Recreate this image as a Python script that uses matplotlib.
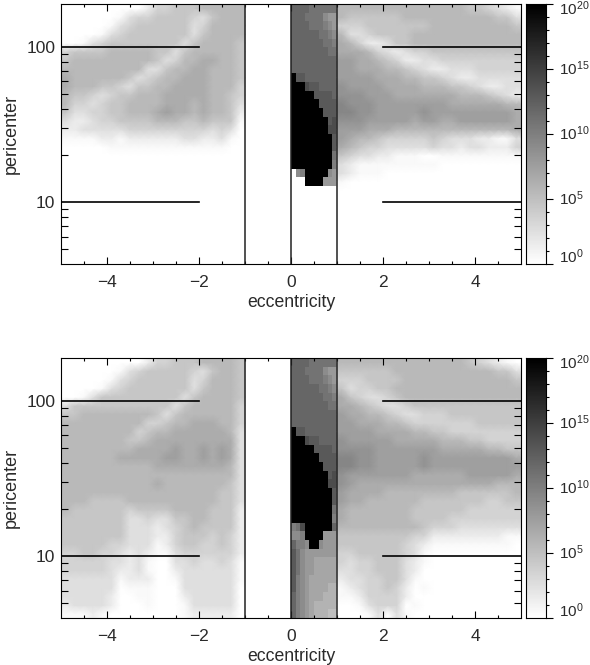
import numpy as np
import matplotlib
matplotlib.use("Agg")
import matplotlib.pyplot as plt
from matplotlib.colors import ListedColormap

plt.rcParams['font.family'] = ['Liberation Sans', 'DejaVu Sans']
plt.rcParams['mathtext.fontset'] = 'custom'
plt.rcParams['mathtext.rm'] = 'Liberation Sans'
plt.rcParams['mathtext.default'] = 'regular'
plt.rcParams['text.color'] = '#2a2a2a'
plt.rcParams['xtick.labelcolor'] = '#2a2a2a'
plt.rcParams['ytick.labelcolor'] = '#2a2a2a'
plt.rcParams['axes.labelcolor'] = '#2a2a2a'

# each character is log10 of the cell value (0-9, A=10 ... K=20), rows run top to bottom
# left block e=-5..-1, middle block e=0..1, right block e=1..5

top_neg = [
    "00000000024455566666",
    "00000013445555435666",
    "00000134555555346666",
    "00001345555555356666",
    "00134555555553566665",
    "45555666665535666665",
    "56666666665346677665",
    "66666666633566776665",
    "76666665345667776665",
    "76665543556677776664",
    "65543455666777776654",
    "64434556666777676653",
    "53344556667877676652",
    "32234455556665565551",
    "22333334444444443430",
    "11112212222223322310",
    "00000111111111111100",
]
top_mid = [
    "CCCCBBBBBB",
    "CCCBBBB988",
    "CCCCBBBA98",
    "CCCCCCBBA9",
    "CCCCCCCBBA",
    "CCCCCCCCBB",
    "CCCCCCCCCC",
    "CCCCCCCCCC",
    "KDDCCCCCCC",
    "KKKEDDCCCC",
    "KKKKKDDDDC",
    "KKKKKKDDDD",
    "KKKKKKKDDD",
    "KKKKKKKKDE",
    "KKKKKKKKEE",
    "KKKKKKKKKD",
    "KKKKKKKKKD",
    "KKKKKKKKKB",
    "KKKKKKKKKA",
    "09AKKKKK98",
    "000KKKK888",
]
top_pos = [
    "66666666666666554321",
    "65555556666666666553",
    "44455555556666666665",
    "63345555666666666666",
    "76422355666666666666",
    "77764323445555555555",
    "88776542233444444444",
    "88777665432233344444",
    "88887776655432233333",
    "98888777766655432233",
    "99988877777776665432",
    "A9998888888877777766",
    "AA998888898888888887",
    "99988888788778888887",
    "88877766666666666667",
    "87665444445433322113",
    "76544333334332332224",
    "54332211100111111111",
    "32111111111000000000",
    "321110000",
    "1",
]

bot_neg = [
    "00000000024455566665",
    "00000013455555435665",
    "00000134555555346665",
    "00001345555555356665",
    "00135555555553566665",
    "35555555555535666664",
    "55666666665356666664",
    "66666666644566777664",
    "66666666456677777763",
    "66666665567777777773",
    "66666666777787787873",
    "66666677777887787873",
    "66666666667777777763",
    "66666666666666666663",
    "66666666667666666653",
    "66666666666666666553",
    "66655556666666666553",
    "65555554555566665552",
    "55555553343355665552",
    "55555553332345655552",
    "55555553332245554542",
    "55555443331245544542",
    "44554432321134444442",
    "44444332310033433431",
    "44444322310023333331",
    "33333312220013333331",
    "33333301110003333330",
    "33333200110002333330",
    "23333200010001333330",
    "11121000000001222220",
]
bot_mid = [
    "CCCCBBBBBB",
    "CCCBBBB988",
    "CCCCBBBA98",
    "CCCCCCBBA9",
    "CCCCCCCBBA",
    "CCCCCCCCBB",
    "CCCCCCCCCC",
    "CCCCCCCCCC",
    "KDDCCCCCCC",
    "KKKEDDCCCC",
    "KKKKKDDDDC",
    "KKKKKKDDDD",
    "KKKKKKKDDD",
    "KKKKKKKKDE",
    "KKKKKKKKEE",
    "KKKKKKKKKD",
    "KKKKKKKKKD",
    "KKKKKKKKKB",
    "KKKKKKKKKA",
    "ABEKKKKKKC",
    "99AKKKK888",
    "CAA9KK9888",
    "DB98888888",
    "DB98877777",
    "DB98877777",
    "DA98777777",
    "DA98777766",
    "CA98777666",
    "CA98766666",
    "CA98766655",
]
bot_pos = [
    "66666666666666543210",
    "55555566666666666553",
    "44455556666666666665",
    "53445566666666666666",
    "75433456666666666666",
    "77654334555555555555",
    "87766543344455555555",
    "88777665444444455555",
    "88887777665544444444",
    "98888877777666554444",
    "99998888888777776655",
    "AA998888898888888887",
    "AA998888898888888888",
    "98888888777777888887",
    "98777777777777777666",
    "87777666666665555556",
    "87766666655555554455",
    "76666666555555444444",
    "76666666555544444444",
    "66666666654443333333",
    "55555555442222222211",
    "55555554321111111110",
    "445555543100",
    "4344555321",
    "334455532",
    "233445531",
    "1234454201",
    "11244442",
    "001344401",
    "00013031",
]

e_neg = np.arange(-5, -0.99, 0.2)
e_mid = np.arange(0, 1.01, 0.1)
e_pos = np.arange(1, 5.01, 0.2)
peri_edges = 10 ** np.linspace(np.log10(4), np.log10(189), 31)

cbar_major = [0, 5, 10, 15, 20]
cbar_label_shift = [1, -6, -6, -6, -11]
x_major = [-4, -2, 0, 2, 4]
x_minor = [-4.5, -3.5, -3, -2.5, -1.5, -1, -0.5, 0.5, 1, 1.5, 2.5, 3, 3.5, 4.5]
y_minor = [5, 6, 7, 8, 9, 20, 30, 40, 50, 60, 70, 80, 90]
y_major = [10, 100]
vlines = [-1, 0, 1]

W, H = 590, 665
LEVELS = "0123456789ABCDEFGHIJK"
cmap = ListedColormap(plt.cm.gray_r(np.linspace(0, 1, 256)))


def decode(rows, ncols):
    out = []
    for r in rows:
        r = r.ljust(ncols, "0")
        out.append([LEVELS.index(c) for c in r])
    while len(out) < 30:
        out.append([0] * ncols)
    return np.array(out[::-1], dtype=float)


def box(x0, y0, x1, y1):
    return [x0 / W, 1 - y1 / H, (x1 - x0) / W, (y1 - y0) / H]


def soft_mesh(ax, e_edges, rows):
    # outer blocks look smooth in the reference, so shade them between cell centres
    # my readings came out about half a decade dark there
    z = np.pad(decode(rows, len(e_edges) - 1), 1, mode='edge')
    z = np.clip(z - 0.5, 0, 20)
    xc = np.r_[e_edges[0], (e_edges[:-1] + e_edges[1:]) / 2, e_edges[-1]]
    yc = np.r_[peri_edges[0], np.sqrt(peri_edges[:-1] * peri_edges[1:]), peri_edges[-1]]
    ax.pcolormesh(xc, yc, z, cmap=cmap, vmin=0, vmax=20, shading='gouraud')


def panel(fig, y0, y1, neg, mid, pos):
    ax = fig.add_axes(box(61, y0, 521, y1))
    soft_mesh(ax, e_neg, neg)
    ax.pcolormesh(e_mid, peri_edges, decode(mid, 10), cmap=cmap, vmin=0, vmax=20)
    soft_mesh(ax, e_pos, pos)
    ax.set_yscale('log')
    ax.set_xlim(-5, 5)
    ax.set_ylim(4, 189)
    for v in vlines:
        ax.axvline(v, color='#222222', lw=1.1)
    for p in y_major:
        ax.plot([-5, -2], [p, p], color='k', lw=1.2)
        ax.plot([2, 5], [p, p], color='k', lw=1.2)
    ax.set_xticks(x_major)
    ax.set_xticklabels(["\u22124", "\u22122", "0", "2", "4"])
    ax.set_xticks(x_minor, minor=True)
    ax.set_yticks(y_major)
    ax.set_yticklabels(["10", "100"])
    ax.set_yticks(y_minor, minor=True)
    ax.set_yticklabels([], minor=True)
    ax.tick_params(axis='x', which='major', direction='in', top=True, length=5, width=0.8, labelsize=12.5, pad=8)
    ax.tick_params(axis='x', which='minor', direction='in', top=True, length=2.5, width=0.8)
    ax.tick_params(axis='y', which='major', direction='in', length=0, labelsize=12.5, pad=4)
    ax.tick_params(axis='y', which='minor', direction='in', right=True, length=5, width=0.8)
    ax.set_xlabel("eccentricity", fontsize=12.7, labelpad=3)
    ax.set_ylabel("pericenter", fontsize=13, labelpad=5)

    cax = fig.add_axes(box(526, y0, 546, y1))
    grad = np.arange(0, 20.01, 0.1).reshape(-1, 1)
    cax.imshow(grad, origin='lower', aspect='auto', cmap=cmap, vmin=0, vmax=20, extent=[0, 1, 0, 20])
    cax.set_xticks([])
    cax.yaxis.tick_right()
    cax.set_yticks(cbar_major)
    cax.set_yticklabels([])
    cax.set_yticks([c for c in range(21) if c not in cbar_major], minor=True)
    cax.tick_params(axis='y', which='major', direction='out', length=5, width=0.8)
    cax.tick_params(axis='y', which='minor', direction='out', length=2.5, width=0.8)
    for c, shift in zip(cbar_major, cbar_label_shift):
        cax.annotate("$10^{%d}$" % c, xy=(1, c), xycoords=('axes fraction', 'data'),
                     xytext=(9.5, shift * 0.72), textcoords='offset points',
                     fontsize=11, va='baseline', ha='left', annotation_clip=False)
    return ax


fig = plt.figure(figsize=(W / 100, H / 100), dpi=100)
panel(fig, 4, 264, top_neg, top_mid, top_pos)
panel(fig, 358, 618, bot_neg, bot_mid, bot_pos)
fig.savefig("out.png", dpi=100)
